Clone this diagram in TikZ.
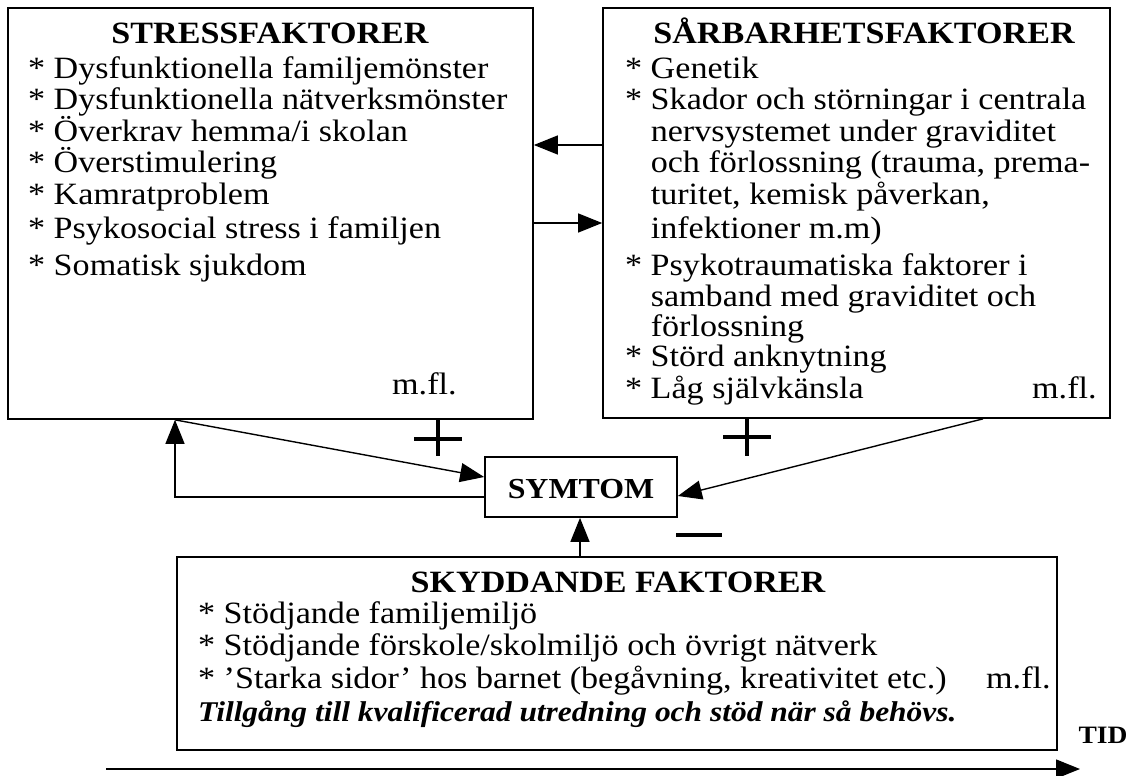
\documentclass[tikz,border=0pt]{standalone}
\usepackage{fontspec}
\setmainfont{Liberation Serif}[FakeStretch=1.1]
\usetikzlibrary{arrows.meta}
\begin{document}
\begin{tikzpicture}[x=1pt,y=-1pt,
  box/.style={draw, line width=1.7pt, inner sep=0pt, rectangle},
  txt/.style={anchor=base west, inner sep=0pt, font=\fontsize{31}{33}\selectfont},
  ttl/.style={anchor=base, inner sep=0pt, font=\fontsize{31}{33}\selectfont\bfseries},
  arr/.style={line width=1.4pt, -{Triangle[length=24pt,width=19pt]}},
  sign/.style={line width=4.5pt},
]
\useasboundingbox (0,0) rectangle (1138,776);
% boxes
\node[box, minimum width=525pt, minimum height=411pt] (stress) at (270.5,213.5) {};
\node[box, minimum width=507pt, minimum height=410pt] (sarb) at (856.5,213) {};
\node[box, minimum width=192pt, minimum height=60pt] (symtom) at (581,487) {};
\node[box, minimum width=880pt, minimum height=193pt] (skydd) at (617,653.5) {};
\node[ttl, font=\fontsize{29}{31}\selectfont\bfseries] (symtomtxt) at (581,498) {SYMTOM};
% stress text
\node[ttl] (st0) at (270,44) {STRESSFAKTORER};
\node[txt] (st1) at (28,78) {* Dysfunktionella familjemönster};
\node[txt] (st2) at (28,110) {* Dysfunktionella nätverksmönster};
\node[txt] (st3) at (28,141) {* Överkrav hemma/i skolan};
\node[txt] (st4) at (28,172) {* Överstimulering};
\node[txt] (st5) at (28,204) {* Kamratproblem};
\node[txt] (st6) at (28,238) {* Psykosocial stress i familjen};
\node[txt] (st7) at (28,275) {* Somatisk sjukdom};
\node[txt] (st8) at (392,394) {m.fl.};
% sarbarhet text
\node[ttl] (sa0) at (864,44) {SÅRBARHETSFAKTORER};
\node[txt] (sa1) at (625,78) {* Genetik};
\node[txt] (sa2) at (625,110) {* Skador och störningar i centrala};
\node[txt] (sa3) at (625,141) {\phantom{* }nervsystemet under graviditet};
\node[txt] (sa4) at (625,172) {\phantom{* }och förlossning (trauma, prema-};
\node[txt] (sa5) at (625,204) {\phantom{* }turitet, kemisk påverkan,};
\node[txt] (sa6) at (625,238) {\phantom{* }infektioner m.m)};
\node[txt] (sa7) at (625,275) {* Psykotraumatiska faktorer i};
\node[txt] (sa8) at (625,306) {\phantom{* }samband med graviditet och};
\node[txt] (sa9) at (625,336) {\phantom{* }förlossning};
\node[txt] (sa10) at (625,366) {* Störd anknytning};
\node[txt] (sa11) at (625,398) {* Låg självkänsla};
\node[txt] (sa12) at (1032,398) {m.fl.};
% skydd text
\node[ttl] (sk0) at (618,592) {SKYDDANDE FAKTORER};
\node[txt] (sk1) at (198,623) {* Stödjande familjemiljö};
\node[txt] (sk2) at (198,655) {* Stödjande förskole/skolmiljö och övrigt nätverk};
\node[txt] (sk3) at (198,688) {* ’Starka sidor’ hos barnet (begåvning, kreativitet etc.)};
\node[txt] (sk4) at (986,688) {m.fl.};
\node[txt, font=\fontsize{28.6}{31}\selectfont\bfseries\itshape] (sk5) at (198,721) {Tillgång till kvalificerad utredning och stöd när så behövs.};
\node[anchor=base, inner sep=0pt, font=\fontsize{25}{27}\selectfont\bfseries] (tid) at (1103,743) {TID};
% connectors
\draw[arr] (sarb.west |- 0,145) -- (stress.east |- 0,145);
\draw[arr] (stress.east |- 0,223) -- (sarb.west |- 0,223);
\draw[arr] (175,0 |- stress.south) -- (symtom.west |- 0,477);
\draw[arr] (symtom.west |- 0,497) -| (175,0 |- stress.south);
\draw[arr] (983,0 |- sarb.south) -- (symtom.east |- 0,496);
\draw[arr] (580,0 |- skydd.north) -- (580,0 |- symtom.south);
\coordinate (t0) at (106,769);
\coordinate (t1) at (1080,769);
\draw[arr] (t0) -- (t1);
% signs
\draw[sign] (438,0 |- stress.south) -- (438,0 |- symtom.north);
\draw[sign] (414,439) -- (462,439);
\draw[sign] (747,0 |- sarb.south) -- (747,456);
\draw[sign] (723,437) -- (771,437);
\draw[sign] (676,535) -- (722,535);
\end{tikzpicture}
\end{document}
